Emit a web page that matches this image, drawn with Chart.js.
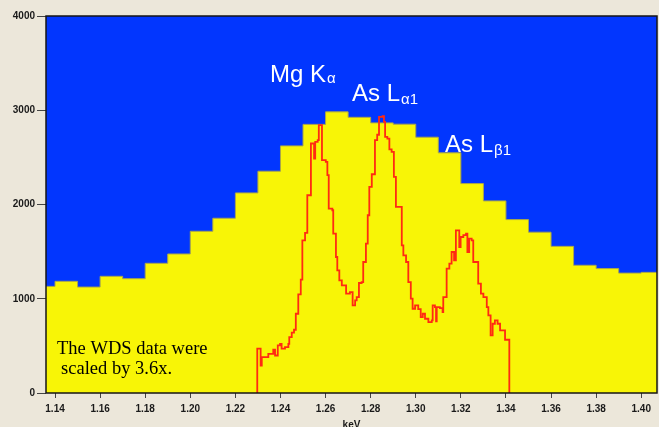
<!DOCTYPE html>
<html>
<head>
<meta charset="utf-8">
<script src="https://cdn.jsdelivr.net/npm/chart.js@4.4.1/dist/chart.umd.min.js"></script>
<style>
  body { margin: 0; background: #ece7da; }
  #wrap { width: 659px; height: 427px; }
</style>
</head>
<body>
<div id="wrap"><canvas id="spectrum" width="659" height="427"></canvas></div>
<script>
// EDS spectrum (yellow histogram), left edge of each 0.01 keV bin
const edsBinStart = [1.13, 1.14, 1.15, 1.16, 1.17, 1.18, 1.19, 1.20, 1.21, 1.22,
  1.23, 1.24, 1.25, 1.26, 1.27, 1.28, 1.29, 1.30, 1.31, 1.32,
  1.33, 1.34, 1.35, 1.36, 1.37, 1.38, 1.39, 1.40];
const edsCounts = [1131, 1185, 1124, 1238, 1213, 1376, 1475, 1716, 1854, 2123,
  2353, 2622, 2850, 2983, 2925, 2866, 2852, 2714, 2548, 2222,
  2038, 1840, 1706, 1556, 1355, 1320, 1272, 1280];
const binWidth = 0.01;

// WDS scan (red), scaled by 3.6
const wdsKeV = [1.2296, 1.2297, 1.2312, 1.2317, 1.2346, 1.2368, 1.2376, 1.2388, 1.2398, 1.2405,
  1.2420, 1.2435, 1.2439, 1.2450, 1.2460, 1.2468, 1.2479, 1.2490, 1.2497, 1.2509,
  1.2519, 1.2535, 1.2549, 1.2554, 1.2565, 1.2570, 1.2584, 1.2601, 1.2608, 1.2614,
  1.2630, 1.2634, 1.2646, 1.2652, 1.2661, 1.2672, 1.2691, 1.2708, 1.2720, 1.2731,
  1.2738, 1.2748, 1.2760, 1.2767, 1.2779, 1.2787, 1.2794, 1.2805, 1.2819, 1.2829,
  1.2837, 1.2853, 1.2859, 1.2864, 1.2874, 1.2883, 1.2893, 1.2903, 1.2912, 1.2938,
  1.2945, 1.2957, 1.2967, 1.2978, 1.2986, 1.2997, 1.3011, 1.3022, 1.3031, 1.3041,
  1.3056, 1.3071, 1.3075, 1.3085, 1.3090, 1.3093, 1.3107, 1.3119, 1.3122, 1.3137,
  1.3149, 1.3159, 1.3170, 1.3178, 1.3193, 1.3199, 1.3211, 1.3223, 1.3229, 1.3237,
  1.3248, 1.3255, 1.3277, 1.3289, 1.3300, 1.3315, 1.3322, 1.3332, 1.3341, 1.3351,
  1.3363, 1.3374, 1.3396, 1.3415];
const wdsCounts = [0, 470, 292, 380, 416, 459, 398, 505, 522, 470,
  487, 522, 593, 640, 671, 841, 1046, 1203, 1620, 1698,
  2098, 2647, 2488, 2664, 2682, 2842, 2470, 2452, 2311, 1957,
  1939, 1690, 1443, 1301, 1195, 1142, 1054, 1071, 930, 983,
  1018, 1167, 1177, 1390, 1585, 1886, 2187, 2321, 2682, 2740,
  2930, 2937, 2877, 2718, 2700, 2584, 2558, 2293, 1974, 1567,
  1461, 1390, 1177, 1001, 894, 930, 890, 805, 841, 788,
  752, 770, 930, 912, 760, 912, 900, 858, 1018, 1319,
  1373, 1496, 1408, 1726, 1549, 1655, 1676, 1690, 1496, 1638,
  1620, 1390, 1160, 1054, 1018, 912, 823, 611, 735, 770,
  735, 664, 565, 0];

const xTicks = [1.14, 1.16, 1.18, 1.20, 1.22, 1.24, 1.26, 1.28, 1.30, 1.32, 1.34, 1.36, 1.38, 1.40];
const yTicks = [0, 1000, 2000, 3000, 4000];

// peak names, anchored in keV / counts
const peakLabels = [
  { main: 'Mg K', sub: '\u03b1', keV: 1.2354, counts: 3298, drop: 1 },
  { main: 'As L', sub: '\u03b11', keV: 1.2717, counts: 3098, drop: 3 },
  { main: 'As L', sub: '\u03b21', keV: 1.3130, counts: 2555, drop: 3 }
];
const noteLines = ['The WDS data were', 'scaled by 3.6x.'];
const noteKeV = [1.1409, 1.1427];
const noteCounts = [416, 204];

const edsPoints = edsBinStart.map((k, i) => ({ x: k, y: edsCounts[i] }));
edsPoints.push({ x: edsBinStart[edsBinStart.length - 1] + binWidth, y: edsCounts[edsCounts.length - 1] });
const wdsPoints = wdsKeV.map((k, i) => ({ x: k, y: wdsCounts[i] }));

const tickFont = { family: '"Liberation Sans", Arial, sans-serif', size: 10, weight: 'bold' };

const framePlugin = {
  id: 'frame',
  beforeDatasetsDraw(chart) {
    const { ctx, chartArea: a } = chart;
    ctx.save();
    ctx.fillStyle = '#0236fe';
    ctx.fillRect(a.left, a.top, a.right - a.left, a.bottom - a.top);
    ctx.restore();
  },
  afterDatasetsDraw(chart) {
    const { ctx, chartArea: a, scales } = chart;
    ctx.save();
    ctx.textBaseline = 'alphabetic';
    ctx.fillStyle = '#ffffff';
    peakLabels.forEach(p => {
      const x = scales.x.getPixelForValue(p.keV);
      const y = scales.y.getPixelForValue(p.counts);
      ctx.font = '24px "Liberation Sans", Arial, sans-serif';
      ctx.fillText(p.main, x, y);
      const w = ctx.measureText(p.main).width;
      ctx.font = '15px "Liberation Sans", Arial, sans-serif';
      ctx.fillText(p.sub, x + w + 1, y + p.drop);
    });
    ctx.fillStyle = '#000000';
    ctx.font = '18.5px "Liberation Serif", "Times New Roman", serif';
    noteLines.forEach((t, i) => {
      ctx.fillText(t, scales.x.getPixelForValue(noteKeV[i]), scales.y.getPixelForValue(noteCounts[i]));
    });
    ctx.strokeStyle = '#161616';
    ctx.lineWidth = 1.5;
    ctx.strokeRect(a.left, a.top, a.right - a.left, a.bottom - a.top);
    ctx.restore();
  }
};

const ctx = document.getElementById('spectrum').getContext('2d');
new Chart(ctx, {
  type: 'line',
  data: {
    datasets: [
      {
        label: 'WDS',
        data: wdsPoints,
        borderColor: '#ff2a12',
        borderWidth: 1.8,
        pointRadius: 0,
        stepped: true,
        fill: false,
        order: 0
      },
      {
        label: 'EDS',
        data: edsPoints,
        borderColor: '#a9a64a',
        borderWidth: 1,
        backgroundColor: '#f8f506',
        pointRadius: 0,
        stepped: true,
        fill: 'origin',
        order: 1
      }
    ]
  },
  options: {
    responsive: false,
    animation: false,
    layout: { padding: { top: 16, right: 2, left: 0, bottom: 0 } },
    plugins: { legend: { display: false }, tooltip: { enabled: false } },
    scales: {
      x: {
        type: 'linear',
        min: 1.1360,
        max: 1.4070,
        afterBuildTicks: s => { s.ticks = xTicks.map(v => ({ value: v })); },
        afterFit: s => { s.height = 34; },
        grid: { drawOnChartArea: false, drawTicks: true, tickLength: 5, color: '#444' },
        border: { display: false },
        ticks: {
          font: tickFont,
          color: '#1a1a1a',
          padding: 5,
          maxRotation: 0,
          callback: v => Number(v).toFixed(2)
        },
        title: {
          display: true,
          text: 'keV',
          font: tickFont,
          color: '#1a1a1a',
          padding: { top: 0, bottom: -4 }
        }
      },
      y: {
        min: 0,
        max: 4000,
        afterBuildTicks: s => { s.ticks = yTicks.map(v => ({ value: v })); },
        afterFit: s => { s.width = 46; },
        grid: { drawOnChartArea: false, drawTicks: true, tickLength: 9, color: '#444' },
        border: { display: false },
        ticks: { font: tickFont, color: '#1a1a1a', padding: 2, callback: v => String(v) }
      }
    }
  },
  plugins: [framePlugin]
});
</script>
</body>
</html>
